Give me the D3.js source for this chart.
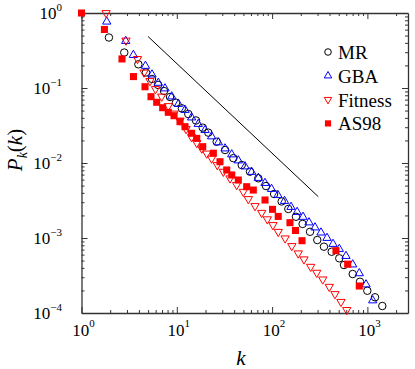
<!DOCTYPE html>
<html>
<head>
<meta charset="utf-8">
<script src="https://cdn.jsdelivr.net/npm/d3@7"></script>
<style>
body { margin: 0; background: #fff; }
</style>
</head>
<body>
<script>
// cumulative degree distributions
var mrK = [1.94, 2.81, 3.95, 4.75, 5.49, 6.35, 7.34, 8.49, 9.81, 11.3, 13.2, 15.9, 18.7, 21.4, 26.2, 32.1, 39.2, 48.0, 58.6, 71.7, 86.3, 105, 126, 148, 178, 209, 250, 298, 350, 422, 507, 568, 701, 836, 998, 1202, 1434];
var mrP = [0.471, 0.297, 0.207, 0.161, 0.132, 0.110, 0.0912, 0.0759, 0.0637, 0.0536, 0.0450, 0.0369, 0.0296, 0.0254, 0.0192, 0.0149, 0.0116, 0.0094, 0.00766, 0.00625, 0.00493, 0.00386, 0.00307, 0.00244, 0.00192, 0.00154, 0.00121, 0.00094, 0.000766, 0.000656, 0.000536, 0.000436, 0.000331, 0.000261, 0.000198, 0.000162, 0.000124];

var gbaK = [1.84, 2.91, 3.50, 4.69, 5.49, 6.40, 7.52, 8.84, 10.4, 12.2, 14.3, 16.8, 19.8, 23.2, 27.3, 32.1, 37.7, 44.2, 52.0, 61.1, 71.7, 84.2, 98.6, 115, 135, 158, 183, 211, 244, 282, 326, 377, 436, 507, 596, 701, 822, 967, 1137];
var gbaP = [0.766, 0.423, 0.275, 0.197, 0.151, 0.117, 0.0985, 0.0770, 0.0612, 0.0509, 0.0404, 0.0331, 0.0275, 0.0226, 0.0188, 0.0156, 0.0130, 0.0108, 0.00898, 0.00759, 0.00631, 0.00541, 0.00450, 0.00374, 0.00311, 0.00259, 0.00222, 0.00191, 0.00161, 0.00138, 0.00118, 0.00100, 0.000832, 0.000713, 0.000575, 0.000443, 0.000338, 0.000240, 0.000147];

var fitK = [1.81, 2.93, 3.87, 4.53, 5.23, 5.98, 6.94, 8.15, 9.35, 10.8, 12.5, 14.3, 16.2, 18.3, 20.6, 23.2, 26.6, 30.8, 36.2, 42.5, 49.9, 56.3, 66.2, 77.8, 89.1, 102, 116, 137, 161, 188, 216, 254, 294, 340, 398, 457, 528, 607];
var fitP = [1, 0.430, 0.244, 0.161, 0.124, 0.097, 0.077, 0.0575, 0.0457, 0.0369, 0.0284, 0.0222, 0.0185, 0.0156, 0.0134, 0.0115, 0.0094, 0.00766, 0.00625, 0.00509, 0.00414, 0.00331, 0.00267, 0.00217, 0.00178, 0.00149, 0.00121, 0.00099, 0.000782, 0.000625, 0.000520, 0.000414, 0.000345, 0.000281, 0.000224, 0.000179, 0.000141, 0.000110];

var asK = [1, 1.74, 2.66, 3.51, 4.64, 5.36, 6.15, 7.11, 8.14, 9.35, 10.8, 12.2, 14.3, 16.2, 18.7, 24.2, 28.4, 33.4, 37.7, 44.2, 54.1, 63.5, 84.3, 101, 116, 154, 176, 206, 468, 621, 822];
var asP = [1, 0.603, 0.244, 0.142, 0.104, 0.0766, 0.0645, 0.0546, 0.0474, 0.0427, 0.0356, 0.0305, 0.0249, 0.0213, 0.0165, 0.0135, 0.0104, 0.00807, 0.00692, 0.00593, 0.00483, 0.00436, 0.00321, 0.00241, 0.00194, 0.00160, 0.00126, 0.00092, 0.000677, 0.000448, 0.000229];

// guide line (slope about -1.2)
var refK = [5, 305];
var refP = [0.485, 0.00356];

var xMajor = [1, 10, 100, 1000];
var yMajor = [1e-4, 1e-3, 1e-2, 1e-1, 1];
var xExp = ["0", "1", "2", "3"];
var yExp = ["\u22124", "\u22123", "\u22122", "\u22121", "0"];

var legendNames = ["MR", "GBA", "Fitness", "AS98"];

var serif = "'Liberation Serif', 'Times New Roman', Times, 'DejaVu Serif', 'Noto Serif', serif";

var width = 415, height = 369;
var margin = {top: 13, right: 7, bottom: 56, left: 81.5};
var x0 = margin.left, x1 = width - margin.right;
var y0 = height - margin.bottom, y1 = margin.top;

var x = d3.scaleLog().domain([1, 2667]).range([x0, x1]);
var y = d3.scaleLog().domain([1e-4, 1]).range([y0, y1]);

var svg = d3.select("body").append("svg")
    .attr("width", width)
    .attr("height", height)
    .style("font-family", serif);

function isMajor(v) {
    var l = Math.log10(v);
    return Math.abs(l - Math.round(l)) < 1e-6;
}
var xMinor = x.ticks().filter(function(v) { return !isMajor(v); });
var yMinor = y.ticks().filter(function(v) { return !isMajor(v); });

// frame with inward ticks on all four sides
function drawAxis(axisFn, scale, major, minor, tx, ty) {
    var g = svg.append("g").attr("transform", "translate(" + tx + "," + ty + ")");
    g.call(axisFn(scale).tickValues(major).tickSize(-6).tickSizeOuter(0).tickFormat(""));
    var g2 = svg.append("g").attr("transform", "translate(" + tx + "," + ty + ")");
    g2.call(axisFn(scale).tickValues(minor).tickSize(-3).tickSizeOuter(0).tickFormat(""));
    g2.select(".domain").remove();
    svg.selectAll("g .domain").attr("stroke", "#333").attr("stroke-width", 1.3);
    svg.selectAll("g .tick line").attr("stroke", "#333").attr("stroke-width", 1);
}
drawAxis(d3.axisBottom, x, xMajor, xMinor, 0, y0);
drawAxis(d3.axisTop, x, xMajor, xMinor, 0, y1);
drawAxis(d3.axisLeft, y, yMajor, yMinor, x0, 0);
drawAxis(d3.axisRight, y, yMajor, yMinor, x1, 0);

// tick labels as 10^n
xMajor.forEach(function(v, i) {
    var t = svg.append("text")
        .attr("x", x(v) + 2)
        .attr("y", 336)
        .attr("text-anchor", "middle")
        .style("font-family", serif)
        .attr("font-size", 17);
    t.append("tspan").text("10");
    t.append("tspan").attr("dy", -9).attr("font-size", 11).text(xExp[i]);
});
yMajor.forEach(function(v, i) {
    var t = svg.append("text")
        .attr("x", 62)
        .attr("y", y(v) + 6)
        .attr("text-anchor", "end")
        .style("font-family", serif)
        .attr("font-size", 17);
    t.append("tspan").text("10");
    t.append("tspan").attr("dy", -8).attr("font-size", 11).text(yExp[i]);
});

// axis titles
svg.append("text")
    .attr("x", 241)
    .attr("y", 365)
    .attr("text-anchor", "middle")
    .style("font-family", serif)
    .attr("font-size", 21)
    .attr("font-style", "italic")
    .text("k");

var yl = svg.append("text")
    .attr("transform", "translate(22,150) rotate(-90)")
    .attr("text-anchor", "middle")
    .style("font-family", serif)
    .attr("font-size", 21);
yl.append("tspan").attr("font-style", "italic").text("P");
yl.append("tspan").attr("dy", 5).attr("font-size", 14).attr("font-style", "italic").text("k");
yl.append("tspan").attr("dy", -5).text("(");
yl.append("tspan").attr("font-style", "italic").text("k");
yl.append("tspan").text(")");

// guide line
var refData = refK.map(function(d, i) { return {k: d, p: refP[i]}; });
svg.append("path")
    .datum(refData)
    .attr("fill", "none")
    .attr("stroke", "#000")
    .attr("stroke-width", 1)
    .attr("d", d3.line()
        .x(function(d) { return x(d.k); })
        .y(function(d) { return y(d.p); }));

// markers
var circleSym = d3.symbol().type(d3.symbolCircle).size(44);
var triSym = d3.symbol().type(d3.symbolTriangle).size(30);
var squareSym = d3.symbol().type(d3.symbolSquare).size(50);

var series = [
    {k: mrK, p: mrP, sym: circleSym, rot: 0, stroke: "#000", fill: "none", lsym: d3.symbol().type(d3.symbolCircle).size(34)},
    {k: gbaK, p: gbaP, sym: triSym, rot: 0, stroke: "#0000ff", fill: "none", lsym: d3.symbol().type(d3.symbolTriangle).size(24)},
    {k: fitK, p: fitP, sym: triSym, rot: 180, stroke: "#ff0000", fill: "none", lsym: d3.symbol().type(d3.symbolTriangle).size(24)},
    {k: asK, p: asP, sym: squareSym, rot: 0, stroke: "none", fill: "#ff0000", lsym: d3.symbol().type(d3.symbolSquare).size(38)}
];

series.forEach(function(s) {
    var data = s.k.map(function(d, i) { return {k: d, p: s.p[i]}; });
    svg.append("g").selectAll("path")
        .data(data)
        .enter().append("path")
            .attr("d", s.sym)
            .attr("transform", function(d) {
                return "translate(" + x(d.k) + "," + y(d.p) + ") rotate(" + s.rot + ")";
            })
            .attr("fill", s.fill)
            .attr("stroke", s.stroke)
            .attr("stroke-width", 1);
});

// legend
var legend = svg.append("g");
series.forEach(function(s, i) {
    var ly = 52 + i * 23.8;
    legend.append("path")
        .attr("d", s.lsym)
        .attr("transform", "translate(328," + ly + ") rotate(" + s.rot + ")")
        .attr("fill", s.fill)
        .attr("stroke", s.stroke)
        .attr("stroke-width", 1);
    legend.append("text")
        .attr("x", 338)
        .attr("y", ly + 7)
        .style("font-family", serif)
        .attr("font-size", 19)
        .text(legendNames[i]);
});
</script>
</body>
</html>
